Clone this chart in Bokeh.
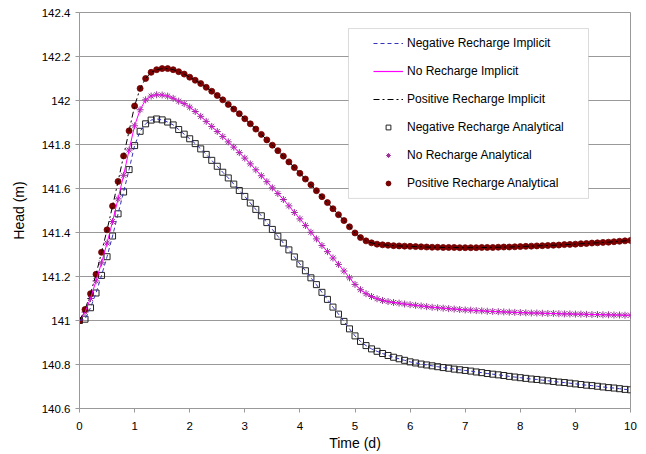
from bokeh.plotting import figure
from bokeh.models import Range1d, FixedTicker, Legend, LegendItem, BoxAnnotation
from bokeh.embed import file_html
from bokeh.resources import INLINE

time_d = [0.0, 0.1, 0.2, 0.3, 0.4, 0.5, 0.6, 0.7, 0.8, 0.9,
          1.0, 1.1, 1.2, 1.3, 1.4, 1.5, 1.6, 1.7, 1.8, 1.9,
          2.0, 2.1, 2.2, 2.3, 2.4, 2.5, 2.6, 2.7, 2.8, 2.9,
          3.0, 3.1, 3.2, 3.3, 3.4, 3.5, 3.6, 3.7, 3.8, 3.9,
          4.0, 4.1, 4.2, 4.3, 4.4, 4.5, 4.6, 4.7, 4.8, 4.9,
          5.0, 5.1, 5.2, 5.3, 5.4, 5.5, 5.6, 5.7, 5.8, 5.9,
          6.0, 6.1, 6.2, 6.3, 6.4, 6.5, 6.6, 6.7, 6.8, 6.9,
          7.0, 7.1, 7.2, 7.3, 7.4, 7.5, 7.6, 7.7, 7.8, 7.9,
          8.0, 8.1, 8.2, 8.3, 8.4, 8.5, 8.6, 8.7, 8.8, 8.9,
          9.0, 9.1, 9.2, 9.3, 9.4, 9.5, 9.6, 9.7, 9.8, 9.9, 10.0]

head_positive = [141.000, 141.050, 141.122, 141.210, 141.310, 141.412, 141.520, 141.632, 141.748, 141.862,
                 141.975, 142.055, 142.100, 142.128, 142.140, 142.145, 142.145, 142.140, 142.131, 142.120,
                 142.106, 142.092, 142.077, 142.060, 142.042, 142.023, 142.003, 141.982, 141.961, 141.940,
                 141.917, 141.894, 141.870, 141.846, 141.821, 141.797, 141.772, 141.747, 141.721, 141.695,
                 141.669, 141.643, 141.617, 141.590, 141.563, 141.536, 141.508, 141.481, 141.454, 141.426,
                 141.398, 141.377, 141.362, 141.353, 141.347, 141.344, 141.342, 141.340, 141.339, 141.338,
                 141.337, 141.336, 141.335, 141.334, 141.333, 141.333, 141.332, 141.332, 141.332, 141.331,
                 141.331, 141.331, 141.331, 141.332, 141.332, 141.332, 141.333, 141.334, 141.334, 141.335,
                 141.336, 141.337, 141.338, 141.339, 141.340, 141.341, 141.342, 141.343, 141.345, 141.346,
                 141.347, 141.349, 141.350, 141.352, 141.353, 141.355, 141.356, 141.358, 141.360, 141.362,
                 141.364]

head_none = [141.000, 141.038, 141.100, 141.180, 141.262, 141.352, 141.450, 141.553, 141.660, 141.775,
             141.885, 141.958, 142.003, 142.020, 142.026, 142.025, 142.020, 142.010, 141.997, 141.986,
             141.970, 141.950, 141.928, 141.905, 141.882, 141.859, 141.836, 141.812, 141.788, 141.763,
             141.738, 141.712, 141.685, 141.658, 141.631, 141.603, 141.577, 141.550, 141.521, 141.491,
             141.462, 141.432, 141.401, 141.371, 141.341, 141.313, 141.284, 141.255, 141.225, 141.194,
             141.164, 141.140, 141.122, 141.109, 141.099, 141.091, 141.086, 141.082, 141.079, 141.075,
             141.072, 141.069, 141.066, 141.063, 141.060, 141.058, 141.056, 141.054, 141.052, 141.050,
             141.048, 141.047, 141.045, 141.044, 141.042, 141.041, 141.040, 141.039, 141.038, 141.037,
             141.036, 141.035, 141.034, 141.034, 141.033, 141.032, 141.032, 141.031, 141.030, 141.030,
             141.029, 141.029, 141.028, 141.027, 141.027, 141.026, 141.026, 141.025, 141.025, 141.024,
             141.024]

head_negative = [141.000, 141.006, 141.058, 141.125, 141.205, 141.290, 141.384, 141.485, 141.584, 141.686,
                 141.795, 141.860, 141.894, 141.911, 141.916, 141.912, 141.902, 141.889, 141.868, 141.847,
                 141.826, 141.804, 141.780, 141.755, 141.728, 141.701, 141.674, 141.648, 141.620, 141.591,
                 141.564, 141.534, 141.505, 141.476, 141.445, 141.414, 141.383, 141.352, 141.321, 141.289,
                 141.257, 141.226, 141.194, 141.163, 141.128, 141.096, 141.061, 141.029, 140.996, 140.962,
                 140.930, 140.905, 140.886, 140.871, 140.860, 140.850, 140.841, 140.833, 140.826, 140.819,
                 140.812, 140.807, 140.802, 140.798, 140.794, 140.790, 140.786, 140.783, 140.779, 140.776,
                 140.773, 140.770, 140.766, 140.763, 140.759, 140.756, 140.753, 140.750, 140.746, 140.743,
                 140.740, 140.737, 140.734, 140.732, 140.729, 140.726, 140.723, 140.720, 140.718, 140.715,
                 140.712, 140.709, 140.706, 140.704, 140.701, 140.698, 140.695, 140.693, 140.690, 140.687,
                 140.685]

x_ticks = [0, 1, 2, 3, 4, 5, 6, 7, 8, 9, 10]
y_ticks = [140.6, 140.8, 141.0, 141.2, 141.4, 141.6, 141.8, 142.0, 142.2, 142.4]
y_tick_labels = ["140.6", "140.8", "141", "141.2", "141.4", "141.6", "141.8", "142", "142.2", "142.4"]

FONT = "Liberation Sans"
GRID = "#999999"
C_NEG_LINE = "#3333bb"
C_NONE_LINE = "#ff00ff"
C_POS_LINE = "black"
C_SQ = "#222222"
C_ST = "#993399"
C_CI = "#800000"
NAN = float("nan")

p = figure(width=646, height=454, output_backend="svg", toolbar_location=None,
           x_range=Range1d(0, 10), y_range=Range1d(140.6, 142.4),
           min_border_left=79, min_border_right=16, min_border_top=12, min_border_bottom=46)
p.background_fill_color = "white"
p.border_fill_color = "white"
p.outline_line_color = GRID
p.outline_line_width = 1

p.xgrid.grid_line_color = None
p.ygrid.grid_line_color = GRID
p.ygrid.grid_line_width = 1

p.xaxis.ticker = FixedTicker(ticks=x_ticks)
p.yaxis.ticker = FixedTicker(ticks=y_ticks)
p.yaxis.major_label_overrides = {t: l for t, l in zip(y_ticks, y_tick_labels)}

for ax in (p.xaxis[0], p.yaxis[0]):
    ax.axis_line_color = GRID
    ax.major_tick_line_color = GRID
    ax.major_tick_in = 0
    ax.major_tick_out = 4
    ax.minor_tick_line_color = None
    ax.major_label_text_font = FONT
    ax.major_label_text_font_size = "11.5px"
    ax.major_label_text_color = "black"
    ax.axis_label_text_font = FONT
    ax.axis_label_text_font_size = "14px"
    ax.axis_label_text_font_style = "normal"
    ax.axis_label_text_color = "black"

p.xaxis.axis_label = "Time (d)"
p.yaxis.axis_label = "Head (m)"
p.xaxis.major_label_standoff = 9
p.xaxis.axis_label_standoff = 2
p.yaxis.major_label_standoff = 5
p.yaxis.axis_label_standoff = 12

# analytical markers
p.scatter(time_d, head_negative, marker="square", size=6, line_color=C_SQ,
          fill_color="white", fill_alpha=0.0, line_width=1)
p.scatter(time_d, head_none, marker="asterisk", size=7, line_color=C_ST, line_width=1)
p.scatter(time_d, head_positive, marker="circle", size=6, line_color="#6e0000",
          fill_color=C_CI, line_width=0.8)

# implicit lines
p.line(time_d, head_negative, line_color=C_NEG_LINE, line_width=1, line_dash="4 3")
p.line(time_d, head_none, line_color=C_NONE_LINE, line_width=1)
p.line(time_d, head_positive, line_color=C_POS_LINE, line_width=1, line_dash="6 3 2 3")

# legend frame (white box with grey border)
box = BoxAnnotation(left=4.882, right=9.238, bottom=141.555, top=142.327,
                    fill_color="white", fill_alpha=1.0, line_color="#888888", line_width=1)
p.add_layout(box)

# legend swatches (non-drawn NaN points)
g1 = p.line(x=[NAN], y=[NAN], line_color=C_NEG_LINE, line_width=1.2, line_dash="4 3")
g2 = p.line(x=[NAN], y=[NAN], line_color=C_NONE_LINE, line_width=1.2)
g3 = p.line(x=[NAN], y=[NAN], line_color=C_POS_LINE, line_width=1.2, line_dash="6 3 2 3")
g4 = p.scatter(x=[NAN], y=[NAN], marker="square", line_color=C_SQ, fill_color="white", line_width=1)
g5 = p.scatter(x=[NAN], y=[NAN], marker="asterisk", line_color=C_ST, line_width=1)
g6 = p.scatter(x=[NAN], y=[NAN], marker="circle", line_color="#6e0000", fill_color=C_CI)

legend = Legend(items=[
    LegendItem(label="Negative Recharge Implicit", renderers=[g1]),
    LegendItem(label="No Recharge Implicit", renderers=[g2]),
    LegendItem(label="Positive Recharge Implicit", renderers=[g3]),
    LegendItem(label="Negative Recharge Analytical", renderers=[g4]),
    LegendItem(label="No Recharge Analytical", renderers=[g5]),
    LegendItem(label="Positive Recharge Analytical", renderers=[g6]),
], location=(286, 210))
legend.margin = 0
legend.padding = 8
legend.spacing = 14
legend.label_height = 14
legend.glyph_height = 12
legend.glyph_width = 30
legend.label_standoff = 4
legend.label_text_font = FONT
legend.label_text_font_size = "12px"
legend.label_text_color = "black"
legend.border_line_alpha = 0
legend.background_fill_alpha = 0
p.add_layout(legend)

open("out.html", "w").write(file_html(p, INLINE))
